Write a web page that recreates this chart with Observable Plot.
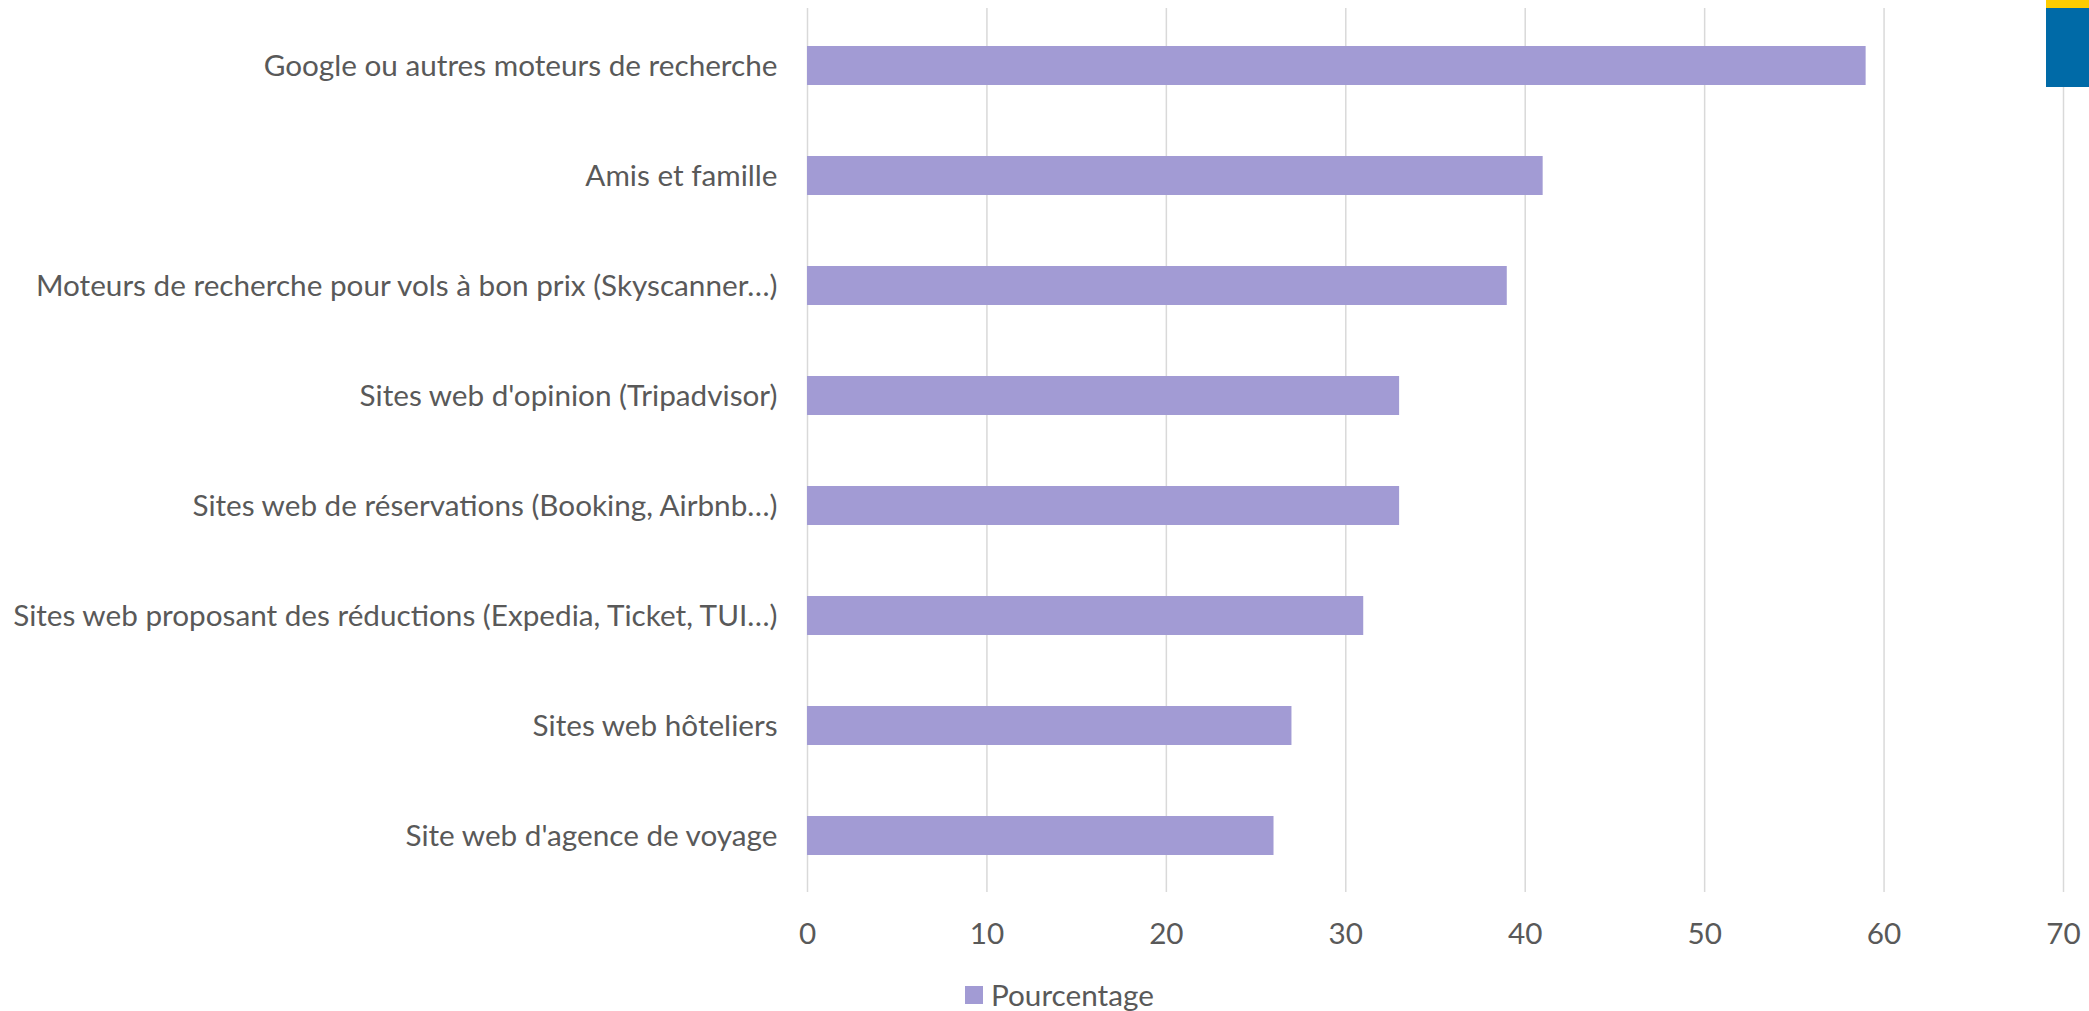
<!DOCTYPE html>
<html>
<head>
<meta charset="utf-8">
<script src="https://cdn.jsdelivr.net/npm/d3@7"></script>
<script src="https://cdn.jsdelivr.net/npm/@observablehq/plot@0.6"></script>
<style>
  html, body { margin: 0; padding: 0; background: #fff; }
  #wrap { position: relative; width: 2089px; height: 1011px; overflow: hidden; font-family: Lato, "Open Sans", sans-serif; }
  #legend { position: absolute; left: 965px; top: 980px; display: flex; align-items: center; color: #595959; font-size: 29.7px; line-height: 1; font-family: Lato, sans-serif; }
  #legend .sw { width: 18px; height: 18px; background: #A29BD4; margin-right: 8px; }
  #deco-y { position: absolute; left: 2046px; top: 0; width: 43px; height: 8px; background: #FECC00; }
  #deco-b { position: absolute; left: 2046px; top: 8px; width: 43px; height: 79px; background: #006AA7; }
</style>
</head>
<body>
<div id="wrap"><div id="chart"></div><div id="legend"><div class="sw"></div><span>Pourcentage</span></div><div id="deco-y"></div><div id="deco-b"></div></div>
<script>
const categories = [
  "Google ou autres moteurs de recherche",
  "Amis et famille",
  "Moteurs de recherche pour vols à bon prix (Skyscanner…)",
  "Sites web d'opinion (Tripadvisor)",
  "Sites web de réservations (Booking, Airbnb…)",
  "Sites web proposant des réductions (Expedia, Ticket, TUI…)",
  "Sites web hôteliers",
  "Site web d'agence de voyage"
];
const values = [59, 41, 39, 33, 33, 31, 27, 26];
const xTicks = [0, 10, 20, 30, 40, 50, 60, 70];
const seriesName = "Pourcentage";

const data = categories.map((c, i) => ({category: c, value: values[i], series: seriesName}));

const chart = Plot.plot({
  width: 2089,
  height: 960,
  marginLeft: 807,
  marginRight: 26,
  marginTop: 8,
  marginBottom: 68,
  style: {fontFamily: "Lato, 'Open Sans', sans-serif", fontSize: "29.7px", color: "#595959", background: "#fff"},
  x: {domain: [0, 70], ticks: xTicks, label: null, tickSize: 0, tickPadding: 30, grid: false},
  y: {domain: categories, label: null, tickSize: 0, tickPadding: 30, paddingInner: 0.65, paddingOuter: 0.325},
  marks: [
    Plot.ruleX(xTicks, {stroke: "#D9D9D9", strokeWidth: 1.5}),
    Plot.barX(data, {x: "value", y: "category", fill: "#A29BD4"}),
    Plot.axisX({ticks: xTicks, tickSize: 0, tickPadding: 30, fill: "#595959", fontSize: 29.7}),
    Plot.axisY({tickSize: 0, tickPadding: 30, fill: "#595959", fontSize: 29.7})
  ]
});
document.getElementById("chart").appendChild(chart);
</script>
</body>
</html>
